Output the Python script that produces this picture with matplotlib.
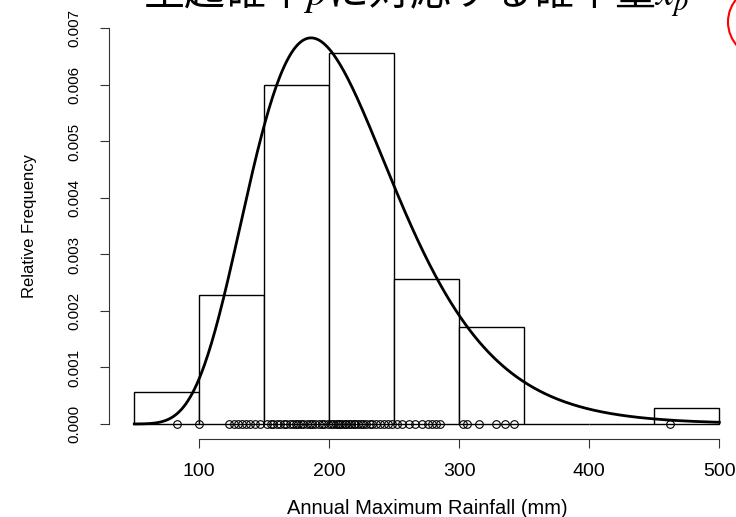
import numpy as np
import matplotlib
matplotlib.use("Agg")
import matplotlib.pyplot as plt
from matplotlib.patches import Ellipse

## annual maximum rainfall (mm) ##
rain = [83, 100,
        123, 127, 130, 133, 136, 139, 143, 147,
        152, 155, 157, 160, 162, 165, 167, 170, 172, 174, 176,
        178, 180, 183, 185, 187, 189, 192, 194, 196, 199,
        201, 203, 205, 207, 208, 210, 212, 213, 215, 217, 219, 220,
        222, 224, 226, 228, 231, 233, 236, 239, 242, 245, 248,
        252, 256, 261, 266, 271, 276, 279, 282, 285,
        303, 306, 315, 328, 335, 342,
        462]
breaks = [50, 100, 150, 200, 250, 300, 350, 400, 450, 500]
xticks = [100, 200, 300, 400, 500]
yticks = [0.000, 0.001, 0.002, 0.003, 0.004, 0.005, 0.006, 0.007]
title = "生起確率$p$に対応する確率量$x_p$"

plt.rcParams['font.family'] = ['Liberation Sans', 'DejaVu Sans']
plt.rcParams['mathtext.fontset'] = 'stix'

W, H = 736, 517
fig = plt.figure(figsize=(W / 100, H / 100), dpi=100)

## axes placed in pixels: x 40..510 -> 121..732, y -0.000271..0.0072 -> 439..17
ax = fig.add_axes([121.3 / W, (H - 439.3) / H, 611 / W, 422.1 / H])
ax.set_xlim(40, 510)
ax.set_ylim(-0.000271, 0.0072)

## histogram (density), bins closed on the right like R's hist() ##
rain_a = np.array(rain, dtype=float)
edges = np.array(breaks, dtype=float)
idx = np.searchsorted(edges, rain_a, side='left') - 1
idx[idx < 0] = 0
counts = np.bincount(idx, minlength=len(edges) - 1)
density = counts / (len(rain) * np.diff(edges))
ax.bar(edges[:-1], density, width=np.diff(edges), align='edge',
       facecolor='white', edgecolor='black', linewidth=1.0)

## fitted log-normal curve ##
logs = np.log(rain_a)
ml = logs.mean()
sl = logs.std(ddof=1)
xs = np.linspace(50, 500, 500)
dens = np.exp(-(np.log(xs) - ml) ** 2 / (2 * sl ** 2)) / (xs * sl * np.sqrt(2 * np.pi))
ax.plot(xs, dens, color='black', linewidth=2.0)

## rug points ##
ax.plot(rain, np.zeros(len(rain)), linestyle='none', marker='o', markersize=5.5,
        markerfacecolor='none', markeredgecolor='black', markeredgewidth=0.8)

## R-style axes ##
for s in ['top', 'right']:
    ax.spines[s].set_visible(False)
ax.spines['left'].set_position(('outward', 8.6))
ax.spines['left'].set_bounds(0, 0.007)
ax.spines['bottom'].set_bounds(100, 500)
ax.spines['left'].set_color('#333333')
ax.spines['bottom'].set_color('#333333')
ax.set_xticks(xticks)
ax.set_xticklabels([str(v) for v in xticks], fontsize=14)
ax.set_yticks(yticks)
ax.set_yticklabels(['%.3f' % v for v in yticks], fontsize=11, rotation=90, va='center')
ax.tick_params(axis='x', length=6.5, pad=10.5, color='#333333')
ax.tick_params(axis='y', length=6.5, pad=14, color='#333333')

fig.text(30 / W, 1 - 226 / H, 'Relative Frequency', rotation=90,
         ha='center', va='center', fontsize=12)
fig.text(427 / W, 1 - 508 / H, 'Annual Maximum Rainfall (mm)',
         ha='center', va='center', fontsize=14.5)

## cut-off title and red circle at the top ##
fig.text(416 / W, 1 - 6 / H, title, ha='center', va='baseline',
         fontsize=29.5, family=['Noto Sans CJK JP', 'DejaVu Sans'])
fig.add_artist(Ellipse((763.6 / W, 1 - 22 / H), 71.2 / W, 71.2 / H,
                       transform=fig.transFigure, fill=False,
                       edgecolor='red', linewidth=1.5))

fig.savefig('out.png', dpi=100)
